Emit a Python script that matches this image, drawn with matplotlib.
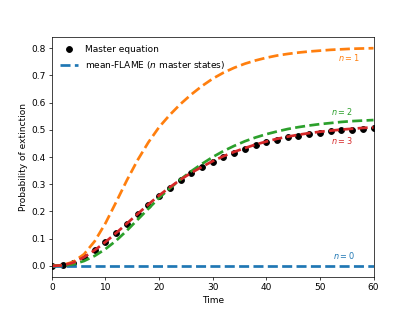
import numpy as np
import matplotlib
matplotlib.use("Agg")
import matplotlib.pyplot as plt

# time grid (master equation sampled every 2 time units)
time = np.arange(0, 61, 2)

master = [0.0, 0.002, 0.012, 0.032, 0.058, 0.088, 0.12, 0.155, 0.19, 0.225,
          0.258, 0.288, 0.315, 0.34, 0.362, 0.382, 0.40, 0.416, 0.43, 0.443,
          0.454, 0.464, 0.472, 0.479, 0.485, 0.49, 0.494, 0.498, 0.501, 0.504, 0.506]

flame_n0 = [0.0] * len(time)
flame_n1 = [0.0, 0.003, 0.015, 0.043, 0.091, 0.157, 0.235, 0.315, 0.389, 0.454,
            0.51, 0.555, 0.595, 0.63, 0.661, 0.688, 0.71, 0.728, 0.743, 0.755,
            0.765, 0.773, 0.779, 0.784, 0.788, 0.791, 0.794, 0.796, 0.798, 0.799, 0.80]
flame_n2 = [0.0, 0.001, 0.006, 0.018, 0.037, 0.062, 0.093, 0.13, 0.17, 0.21,
            0.25, 0.285, 0.318, 0.348, 0.375, 0.40, 0.422, 0.441, 0.458, 0.472,
            0.484, 0.494, 0.503, 0.51, 0.516, 0.521, 0.525, 0.529, 0.532, 0.534, 0.536]
flame_n3 = [0.0, 0.002, 0.012, 0.032, 0.058, 0.088, 0.121, 0.156, 0.191, 0.226,
            0.259, 0.289, 0.317, 0.342, 0.364, 0.385, 0.403, 0.419, 0.433, 0.446,
            0.457, 0.467, 0.475, 0.482, 0.488, 0.493, 0.497, 0.501, 0.504, 0.507, 0.509]

labels = ["$n=0$", "$n=1$", "$n=2$", "$n=3$"]
label_pos = [(54.4, 0.037), (55.3, 0.766), (54.0, 0.569), (54.0, 0.461)]
colors = ["tab:blue", "tab:orange", "tab:green", "tab:red"]

fig, ax = plt.subplots(figsize=(415 / 65, 311 / 65), dpi=65)

ax.plot(time, master, 'o', color='black', ms=6.5, label="Master equation")
flames = [flame_n0, flame_n1, flame_n2, flame_n3]
for i, curve in enumerate(flames):
    lab = "mean-FLAME ($n$ master states)" if i == 0 else None
    ax.plot(time, curve, '--', color=colors[i], lw=3, label=lab)
    ax.text(label_pos[i][0], label_pos[i][1], labels[i], color=colors[i],
            ha='center', va='center', fontsize=9)

ax.set_xlim(0, 60)
ax.set_xlabel("Time")
ax.set_ylabel("Probability of extinction")
ax.legend(loc='upper left', frameon=False)

fig.savefig("out.png", dpi=65)
